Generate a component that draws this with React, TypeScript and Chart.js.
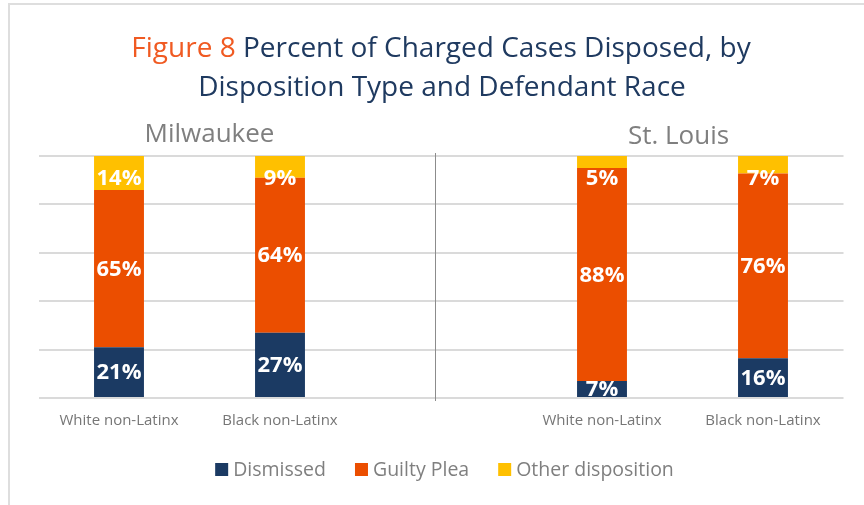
import React, { useEffect, useRef } from "react";
import { Chart, registerables } from "chart.js";
Chart.register(...registerables);

// ---- data ----
const categories = ["White non-Latinx", "Black non-Latinx", "", "White non-Latinx", "Black non-Latinx"];
const dismissed = [21, 27, null, 7, 16.4];
const guiltyPlea = [65, 64, null, 88, 76.4];
const otherDisposition = [14, 9, null, 5, 7.2];
const seriesNames = ["Dismissed", "Guilty Plea", "Other disposition"];
const groupNames = ["Milwaukee", "St. Louis"];
const yTicks = [0, 20, 40, 60, 80, 100];
const titleLead = "Figure 8";
const titleRest = "Percent of Charged Cases Disposed, by";
const titleLine2 = "Disposition Type and Defendant Race";

// ---- styles ----
const COLORS = ["#1B3A63", "#EB4E00", "#FFC000"];
const FONT = "'Open Sans', 'Noto Sans', sans-serif";
const GRAY = "#7F7F7F";

const decorPlugin = {
  id: "decor",
  beforeDraw(chart: any) {
    const { ctx } = chart;
    ctx.save();
    ctx.fillStyle = "#FFFFFF";
    ctx.fillRect(0, 0, chart.width, chart.height);
    ctx.fillStyle = "#DEDEDE";
    ctx.fillRect(8, 3, chart.width - 8, 2);
    ctx.fillRect(8, 3, 2, chart.height - 3);
    ctx.restore();
  },
  beforeDatasetsDraw(chart: any) {
    const { ctx, chartArea } = chart;
    const xs = chart.scales.x;
    const sepX = Math.round((xs.getPixelForValue(1) + xs.getPixelForValue(3)) / 2 - 6) + 0.5;
    ctx.save();
    ctx.strokeStyle = "#8C8C8C";
    ctx.lineWidth = 1;
    ctx.beginPath();
    ctx.moveTo(sepX, chartArea.top - 3);
    ctx.lineTo(sepX, chartArea.bottom + 3);
    ctx.stroke();
    ctx.restore();
  },
  afterDatasetsDraw(chart: any) {
    const { ctx, chartArea } = chart;
    ctx.save();
    ctx.fillStyle = "#FFFFFF";
    ctx.font = `bold 22px ${FONT}`;
    ctx.textAlign = "center";
    ctx.textBaseline = "middle";
    chart.data.datasets.forEach((ds: any, di: number) => {
      const meta = chart.getDatasetMeta(di);
      meta.data.forEach((bar: any, i: number) => {
        const v = ds.data[i];
        if (v == null) return;
        const props = bar.getProps(["x", "y", "base"], true);
        let cy = (props.y + props.base) / 2;
        cy = Math.max(cy, chartArea.top + 22);
        cy = Math.min(cy, chartArea.bottom - 7);
        ctx.fillText(`${Math.round(v)}%`, props.x, cy + 1);
      });
    });
    ctx.restore();
  },
  afterDraw(chart: any) {
    const { ctx, chartArea } = chart;
    const xs = chart.scales.x;
    const cx = (chartArea.left + chartArea.right) / 2;
    ctx.save();
    // title
    ctx.font = `28px ${FONT}`;
    ctx.textBaseline = "alphabetic";
    ctx.textAlign = "left";
    const leadW = ctx.measureText(titleLead + " ").width;
    const restW = ctx.measureText(titleRest).width;
    let x0 = cx - (leadW + restW) / 2;
    ctx.fillStyle = "#F05A22";
    ctx.fillText(titleLead + " ", x0, 57);
    ctx.fillStyle = "#1F3A60";
    ctx.fillText(titleRest, x0 + leadW, 57);
    ctx.textAlign = "center";
    ctx.fillText(titleLine2, cx + 1, 96);
    // group names
    ctx.fillStyle = GRAY;
    ctx.font = `26px ${FONT}`;
    const g1 = (xs.getPixelForValue(0) + xs.getPixelForValue(1)) / 2 + 10;
    const g2 = (xs.getPixelForValue(3) + xs.getPixelForValue(4)) / 2 - 4;
    ctx.fillText(groupNames[0], g1, 142);
    ctx.fillText(groupNames[1], g2, 144);
    // legend
    ctx.font = `19.5px ${FONT}`;
    ctx.textAlign = "left";
    ctx.textBaseline = "middle";
    const box = 13, gap = 5, itemGap = 29;
    const widths = seriesNames.map((n) => box + gap + ctx.measureText(n).width);
    const total = widths.reduce((a, b) => a + b, 0) + itemGap * (seriesNames.length - 1);
    let lx = cx + 3.5 - total / 2;
    const ly = 469.5;
    seriesNames.forEach((n, i) => {
      ctx.fillStyle = COLORS[i];
      ctx.fillRect(lx, ly - box / 2, box, box);
      ctx.fillStyle = GRAY;
      ctx.fillText(n, lx + box + gap, ly + 1);
      lx += widths[i] + itemGap;
    });
    ctx.restore();
  },
};

export default function App() {
  const ref = useRef<HTMLCanvasElement | null>(null);
  useEffect(() => {
    document.body.style.margin = "0";
    const canvas = ref.current!;
    const chart = new Chart(canvas, {
      type: "bar",
      data: {
        labels: categories,
        datasets: [
          { label: seriesNames[0], data: dismissed, backgroundColor: COLORS[0] },
          { label: seriesNames[1], data: guiltyPlea, backgroundColor: COLORS[1] },
          { label: seriesNames[2], data: otherDisposition, backgroundColor: COLORS[2] },
        ],
      },
      options: {
        responsive: false,
        animation: false,
        devicePixelRatio: 1,
        layout: { padding: { top: 156, right: 20.5, left: 0, bottom: 0 } },
        datasets: { bar: { categoryPercentage: 1, barPercentage: 0.31 } },
        plugins: { legend: { display: false }, title: { display: false }, tooltip: { enabled: false } },
        scales: {
          x: {
            stacked: true,
            grid: { display: false, drawTicks: false },
            border: { display: false },
            ticks: { color: "#767676", font: { family: FONT, size: 15 }, padding: 14, maxRotation: 0, autoSkip: false },
            afterFit: (s: any) => { s.height = 107; },
          },
          y: {
            stacked: true,
            min: yTicks[0],
            max: yTicks[yTicks.length - 1],
            ticks: { display: false, stepSize: 20 },
            afterBuildTicks: (s: any) => { s.ticks = yTicks.map((v) => ({ value: v })); },
            grid: { color: "#DADADA", lineWidth: 2, drawTicks: false },
            border: { display: false },
            afterFit: (s: any) => { s.width = 38.5; },
          },
        },
      },
      plugins: [decorPlugin],
    });
    return () => chart.destroy();
  }, []);
  return (
    <div style={{ width: 864, height: 505 }}>
      <canvas ref={ref} width={864} height={505} style={{ display: "block", width: 864, height: 505 }} />
    </div>
  );
}
